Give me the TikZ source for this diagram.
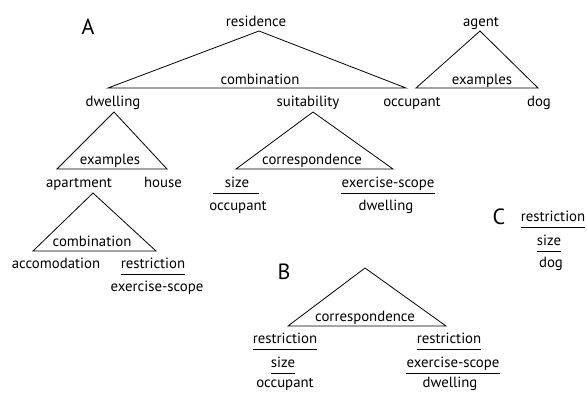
\documentclass[tikz,border=0pt]{standalone}
\usepackage{fontspec}
\setmainfont{PT Sans}
\usetikzlibrary{calc}
\tikzset{
  lbl/.style={inner sep=0pt, anchor=base, font=\fontsize{14.8}{16}\selectfont},
  big/.style={inner sep=0pt, anchor=center, font=\fontsize{22}{24}\selectfont},
  tri/.style={draw, line width=0.8pt, line join=miter},
  ul/.style={draw, line width=0.8pt}
}
\newcommand{\ulin}[2]{\draw[ul] ($(#1.base west)+(-#2,6)$) -- ($(#1.base east)+(#2,6)$);}
\begin{document}
\begin{tikzpicture}[x=1pt,y=-1pt]
\useasboundingbox (0,0) rectangle (587,392);
% letters
\node[big] (A) at (88,27) {A};
\node[big] (B) at (284,272) {B};
\node[big] (C) at (499,217) {C};
% top tree
\node[lbl] (residence) at (256,26) {residence};
\coordinate (t1a) at (259,31);
\coordinate (t1l) at (108,88);
\coordinate (t1r) at (406,88);
\draw[tri] (t1a) -- (t1l) -- (t1r) -- cycle;
\node[lbl] (comb1) at (260,84) {combination};
\node[lbl] (dwelling) at (113,106) {dwelling};
\node[lbl] (suit) at (308,106) {suitability};
\node[lbl] (occ) at (412,106) {occupant};
% agent
\node[lbl] (agent) at (481,26) {agent};
\coordinate (t2a) at (480,31);
\coordinate (t2l) at (416,88);
\coordinate (t2r) at (538,88);
\draw[tri] (t2a) -- (t2l) -- (t2r) -- cycle;
\node[lbl] (ex2) at (482,84) {examples};
\node[lbl] (dog) at (539,106) {dog};
% dwelling tree
\coordinate (t3a) at (114,112);
\coordinate (t3l) at (57,169);
\coordinate (t3r) at (167,169);
\draw[tri] (t3a) -- (t3l) -- (t3r) -- cycle;
\node[lbl] (ex3) at (110,164) {examples};
\node[lbl] (apt) at (79,187) {apartment};
\node[lbl] (house) at (163,187) {house};
% suitability tree
\coordinate (t4a) at (313,112);
\coordinate (t4l) at (236,169);
\coordinate (t4r) at (393,169);
\draw[tri] (t4a) -- (t4l) -- (t4r) -- cycle;
\node[lbl] (corr4) at (312,164) {correspondence};
\node[lbl] (size4) at (237,187) {size};
\draw[ul] (213,193) -- (259,193);
\node[lbl] (occ4) at (238,210) {occupant};
\node[lbl] (exs4) at (388,187) {exercise-scope};
\ulin{exs4}{0}
\node[lbl] (dw4) at (386,210) {dwelling};
% apartment tree
\coordinate (t5a) at (93,193);
\coordinate (t5l) at (33,251);
\coordinate (t5r) at (156,251);
\draw[tri] (t5a) -- (t5l) -- (t5r) -- cycle;
\node[lbl] (comb5) at (92,246) {combination};
\node[lbl] (acc) at (56,268) {accomodation};
\node[lbl] (res5) at (153,268) {restriction};
\ulin{res5}{0}
\node[lbl] (exs5) at (157,291) {exercise-scope};
% C
\node[lbl] (resC) at (553,221) {restriction};
\ulin{resC}{0}
\node[lbl] (sizeC) at (549,245) {size};
\ulin{sizeC}{0}
\node[lbl] (dogC) at (551,267) {dog};
% B
\coordinate (t6a) at (365,268);
\coordinate (t6l) at (288,326);
\coordinate (t6r) at (446,326);
\draw[tri] (t6a) -- (t6l) -- (t6r) -- cycle;
\node[lbl] (corr6) at (365,321) {correspondence};
\node[lbl] (resBL) at (285,343) {restriction};
\ulin{resBL}{0}
\node[lbl] (sizeB) at (283,367) {size};
\ulin{sizeB}{0}
\node[lbl] (occB) at (285,387) {occupant};
\node[lbl] (resBR) at (449,343) {restriction};
\ulin{resBR}{0}
\node[lbl] (exsB) at (453,367) {exercise-scope};
\ulin{exsB}{0}
\node[lbl] (dwB) at (450,387) {dwelling};
\end{tikzpicture}
\end{document}
